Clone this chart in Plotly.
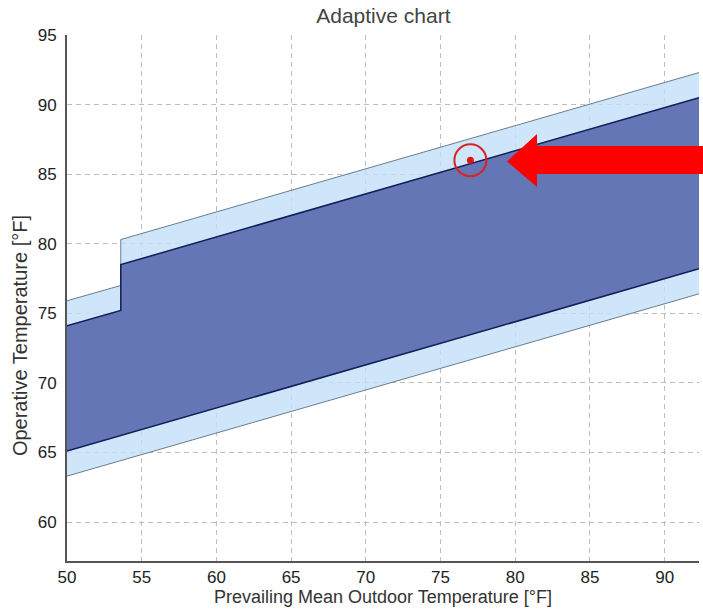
import plotly.graph_objects as go

# Boundary data (°F)
x_upper = [50, 53.6, 53.6, 92.3]
upper80 = [75.9, 77.0, 80.3, 92.3]
upper90 = [74.1, 75.2, 78.5, 90.5]
x_lower = [50, 92.3]
lower80 = [63.3, 76.4]
lower90 = [65.1, 78.2]

# Current condition point
pt_x = [77.0]
pt_y = [86.0]

x_range = [50, 92.3]
y_range = [57.2, 95]
x_ticks = [50, 55, 60, 65, 70, 75, 80, 85, 90]
y_ticks = [60, 65, 70, 75, 80, 85, 90, 95]

fig = go.Figure()

# 80% band (light)
fig.add_trace(go.Scatter(
    x=x_upper + x_lower[::-1], y=upper80 + lower80[::-1],
    fill="toself", fillcolor="rgba(195,224,249,0.8)",
    mode="lines", line=dict(width=0), hoverinfo="skip", showlegend=False))
# 90% band (dark)
fig.add_trace(go.Scatter(
    x=x_upper + x_lower[::-1], y=upper90 + lower90[::-1],
    fill="toself", fillcolor="rgba(87,102,172,0.88)",
    mode="lines", line=dict(width=0), hoverinfo="skip", showlegend=False))

# boundary lines
for xs, ys, col, w in [
    (x_upper, upper80, "rgb(105,125,140)", 1),
    (x_lower, lower80, "rgb(105,125,140)", 1),
    (x_upper, upper90, "rgb(20,28,85)", 1.5),
    (x_lower, lower90, "rgb(20,28,85)", 1.5),
]:
    fig.add_trace(go.Scatter(x=xs, y=ys, mode="lines",
                             line=dict(color=col, width=w),
                             hoverinfo="skip", showlegend=False))

# point and ring
fig.add_trace(go.Scatter(x=pt_x, y=pt_y, mode="markers",
                         marker=dict(size=32, color="rgba(0,0,0,0)",
                                     line=dict(color="rgb(215,35,35)", width=2)),
                         showlegend=False))
fig.add_trace(go.Scatter(x=pt_x, y=pt_y, mode="markers",
                         marker=dict(size=7, color="rgb(225,20,20)"),
                         showlegend=False))

# red arrow (paper coordinates)
fig.add_shape(type="path", xref="paper", yref="paper",
              path="M 0.6962 0.7595 L 0.7437 0.8118 L 0.7437 0.789 L 1.03 0.789 "
                   "L 1.03 0.7357 L 0.7437 0.7357 L 0.7437 0.711 Z",
              fillcolor="#ff0000", line=dict(width=0), layer="above")

# y-axis title as annotation
fig.add_annotation(text="Operative Temperature [°F]", xref="paper", yref="paper",
                   x=-0.074, y=0.428, xanchor="center", yanchor="middle",
                   textangle=-90, showarrow=False,
                   font=dict(size=20, color="#333"))

fig.update_layout(
    width=703, height=610,
    margin=dict(l=67, r=4, t=35, b=49),
    paper_bgcolor="white", plot_bgcolor="white",
    font=dict(family="Liberation Sans, Arial, sans-serif", color="#222"),
    title=dict(text="Adaptive chart", x=0.5453, xanchor="center", y=0.974, yanchor="middle",
               font=dict(size=21, color="#444")),
)
fig.update_xaxes(range=x_range, tickvals=x_ticks, showgrid=True,
                 gridcolor="rgb(190,190,190)", griddash="5px,4px", gridwidth=1,
                 showline=True, linecolor="#555", linewidth=2, mirror=False,
                 ticks="", zeroline=False, tickfont=dict(size=17, color="#222"),
                 title=dict(text="Prevailing Mean Outdoor Temperature [°F]",
                            font=dict(size=18, color="#333"), standoff=2))
fig.update_yaxes(range=y_range, tickvals=y_ticks, showgrid=True,
                 gridcolor="rgb(190,190,190)", griddash="5px,4px", gridwidth=1,
                 showline=True, linecolor="#555", linewidth=2, mirror=False,
                 ticks="", zeroline=False, tickfont=dict(size=17, color="#222"),
                 ticklabelstandoff=5)

fig.write_html("out.html")
